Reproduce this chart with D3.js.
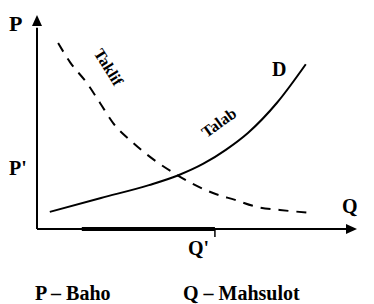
<!DOCTYPE html>
<html>
<head>
<meta charset="utf-8">
<script src="https://cdn.jsdelivr.net/npm/d3@7"></script>
<style>
  body { margin: 0; background: #fff; }
  text { font-family: "Liberation Serif", "DejaVu Serif", serif; font-weight: bold; fill: #000; }
</style>
</head>
<body>
<div id="chart"></div>
<script>
// curve points (Q, P), 0..100 units
var taklifQ = [4, 20, 35, 44, 52, 59, 66, 75, 84];
var taklifP = [8, 14.5, 20.5, 25, 30.5, 37, 45, 59, 77];
var talabQ = [6.6, 10.3, 15.6, 19.7, 23.8, 29.7, 43.8, 55, 61.9, 68.8, 75.9, 86];
var talabP = [86.9, 78, 68.2, 58.9, 49.5, 40.7, 25.2, 16.8, 13.6, 10.3, 8.9, 7.5];
var segQ = [14, 55.6];          // thick part of the Q axis
var legend = ["P – Baho", "Q – Mahsulot"];

var width = 374, height = 304;

var svg = d3.select("#chart").append("svg")
    .attr("width", width)
    .attr("height", height);

var x = d3.scaleLinear().domain([0, 100]).range([37, 357]);
var y = d3.scaleLinear().domain([0, 100]).range([229, 15]);

// axes
svg.append("line")
    .attr("x1", x(0)).attr("y1", y(0))
    .attr("x2", x(0)).attr("y2", y(94))
    .attr("stroke", "#000").attr("stroke-width", 2);
svg.append("line")
    .attr("x1", x(0)).attr("y1", y(0))
    .attr("x2", x(98)).attr("y2", y(0))
    .attr("stroke", "#000").attr("stroke-width", 2);

// arrow heads
svg.append("path")
    .attr("d", "M" + x(0) + "," + y(100) + " l-5,11 l10,0 z");
svg.append("path")
    .attr("d", "M" + x(100) + "," + y(0) + " l-11,-5 l0,10 z");

// thick segment on Q axis, with small tick at Q'
svg.append("line")
    .attr("x1", x(segQ[0])).attr("y1", y(0))
    .attr("x2", x(segQ[1])).attr("y2", y(0))
    .attr("stroke", "#000").attr("stroke-width", 4);
svg.append("line")
    .attr("x1", x(segQ[1])).attr("y1", y(0))
    .attr("x2", x(segQ[1])).attr("y2", y(0) + 8)
    .attr("stroke", "#000").attr("stroke-width", 1.5);

var line = d3.line()
    .x(function(d) { return x(d[0]); })
    .y(function(d) { return y(d[1]); })
    .curve(d3.curveMonotoneX);

svg.append("path")
    .datum(d3.zip(taklifQ, taklifP))
    .attr("d", line)
    .attr("fill", "none")
    .attr("stroke", "#000")
    .attr("stroke-width", 2);

svg.append("path")
    .datum(d3.zip(talabQ, talabP))
    .attr("d", line)
    .attr("fill", "none")
    .attr("stroke", "#000")
    .attr("stroke-width", 2)
    .attr("stroke-dasharray", "10,8");

// labels
function label(txt, px, py, size, rot) {
  var t = svg.append("text")
      .attr("x", px).attr("y", py)
      .style("font-size", size + "px")
      .text(txt);
  if (rot) t.attr("text-anchor", "middle")
      .attr("transform", "rotate(" + rot + "," + px + "," + py + ")");
  return t;
}

label("P", 9, 31, 22);
label("P'", 9, 175, 20);
label("Q", 342, 213, 20);
label("Q'", 188, 255, 20);
label("D", 272, 76, 20);
label("Taklif", 104, 70, 16, 58);
label("Talab", 222, 127, 16, -36);

label(legend[0], 35, 300, 20);
label(legend[1], 183, 300, 20);
</script>
</body>
</html>
